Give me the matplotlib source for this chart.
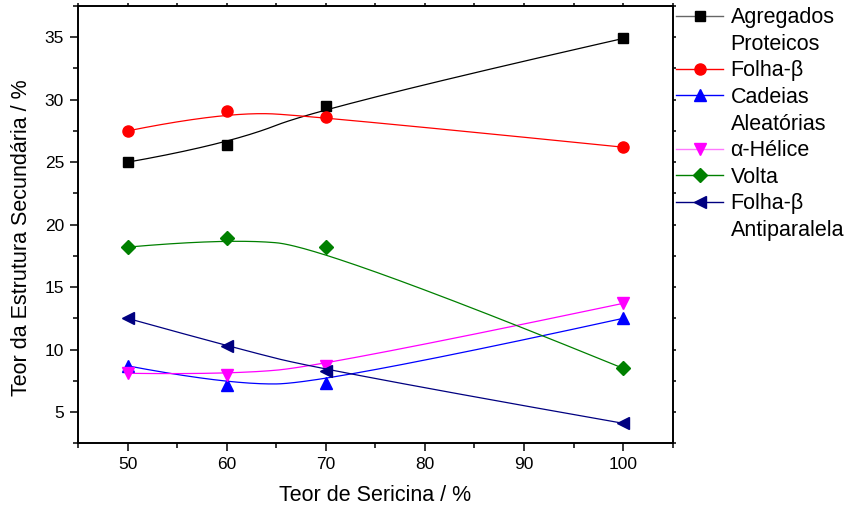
import numpy as np
import matplotlib
matplotlib.use("Agg")
import matplotlib.pyplot as plt
from matplotlib.lines import Line2D
from matplotlib.ticker import MultipleLocator

plt.rcParams['font.family'] = ['Liberation Sans', 'DejaVu Sans']

# teor de sericina (%)
sericina = [50, 60, 70, 100]

# conteudo de estrutura secundaria (%)
agregados = [25.0, 26.4, 29.5, 34.9]
folha_beta = [27.5, 29.1, 28.6, 26.2]
cadeias = [8.7, 7.2, 7.3, 12.5]
alfa_helice = [8.1, 8.0, 8.7, 13.7]
volta = [18.2, 18.9, 18.2, 8.5]
folha_anti = [12.5, 10.3, 8.3, 4.1]

# dados, cor, cor da linha na legenda, marcador, tamanho, rotulo
series = [
    (agregados, 'black', '0.4', 's', 7, ['Agregados', 'Proteicos']),
    (folha_beta, 'red', 'red', 'o', 8, ['Folha-β']),
    (cadeias, 'blue', 'blue', '^', 8.5, ['Cadeias', 'Aleatórias']),
    (alfa_helice, 'magenta', '#ff77ff', 'v', 8.5, ['α-Hélice']),
    (volta, 'green', 'green', 'D', 7, ['Volta']),
    (folha_anti, 'navy', 'navy', '<', 8.5, ['Folha-β', 'Antiparalela']),
]


def bspline(xs, ys, n=80):
    # quadratic clamped B-spline, data points used as control points
    p = np.column_stack([xs, ys]).astype(float)
    inner = p[1:-1]
    mids = (inner[:-1] + inner[1:]) / 2
    starts = np.vstack([p[:1], mids])
    ends = np.vstack([mids, p[-1:]])
    t = np.linspace(0, 1, n)[:, None]
    segs = [(1 - t) ** 2 * a + 2 * t * (1 - t) * c + t ** 2 * b
            for a, c, b in zip(starts, inner, ends)]
    curve = np.vstack(segs)
    return curve[:, 0], curve[:, 1]


fig = plt.figure(figsize=(8.44, 5.13), dpi=100)
ax = fig.add_axes([0.0924, 0.1359, 0.7046, 0.8524])

handles, labels = [], []
blank = Line2D([], [], color='none')
for vals, color, lcolor, mk, ms, names in series:
    cx, cy = bspline(sericina, vals)
    ax.plot(cx, cy, color=color, lw=0.9)
    ax.plot(sericina, vals, ls='none', marker=mk, ms=ms, color=color)
    h = Line2D([], [], color=lcolor, lw=1.0, marker=mk, ms=ms,
               markerfacecolor=color, markeredgecolor=color)
    handles.append(h)
    labels.append(names[0])
    for extra in names[1:]:
        handles.append(blank)
        labels.append(extra)

ax.set_xlim(45, 105)
ax.set_ylim(2.5, 37.5)
ax.xaxis.set_major_locator(MultipleLocator(10))
ax.xaxis.set_minor_locator(MultipleLocator(5))
ax.yaxis.set_major_locator(MultipleLocator(5))
ax.yaxis.set_minor_locator(MultipleLocator(2.5))

for s in ax.spines.values():
    s.set_linewidth(1.4)
ax.tick_params(which='major', direction='out', length=6, width=1.1,
               labelsize=12.5, pad=4)
ax.tick_params(which='minor', direction='out', length=3.5, width=1.1)
ax.tick_params(which='both', top=True, right=True)
# marcas curtas nos eixos superior e direito
for t in ax.xaxis.get_major_ticks() + ax.xaxis.get_minor_ticks():
    t.tick2line.set_markersize(2)
for t in ax.yaxis.get_major_ticks() + ax.yaxis.get_minor_ticks():
    t.tick2line.set_markersize(2)

ax.set_xlabel('Teor de Sericina / %', fontsize=15.5)
ax.set_ylabel('Teor da Estrutura Secundária / %', fontsize=15.5)
ax.xaxis.set_label_coords(0.5, -0.095)
ax.yaxis.set_label_coords(-0.078, 0.47)

fig.legend(handles, labels, loc='upper left',
           bbox_to_anchor=(0.801, 0.986), frameon=False, fontsize=15.5,
           handlelength=2.2, handletextpad=0.33, labelspacing=0.26,
           borderaxespad=0, borderpad=0)

fig.savefig('out.png', dpi=100)
